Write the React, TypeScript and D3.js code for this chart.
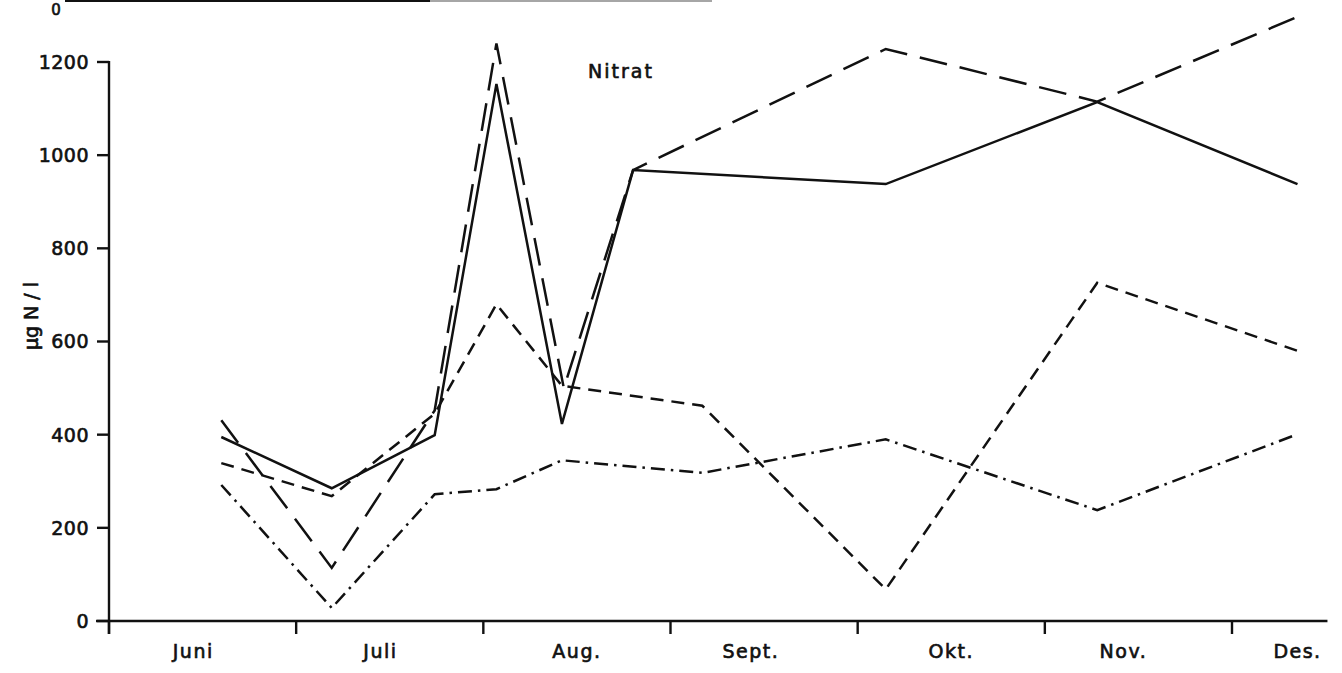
import React from "react";
import * as d3 from "d3";

// Month boundaries (tick positions, in month units from 1 June)
const monthTicks = [0, 1, 2, 3, 4, 5, 6];
const monthLabels = ["Juni", "Juli", "Aug.", "Sept.", "Okt.", "Nov.", "Des."];
const monthLabelPos = [0.45, 1.45, 2.5, 3.43, 4.5, 5.42, 6.35];
const yTicks = [0, 200, 400, 600, 800, 1000, 1200];

// Series (x in month units from 1 June, y in µg N/l)
const solidX = [0.6, 1.19, 1.74, 2.07, 2.42, 2.8, 4.15, 5.28, 6.35];
const solidY = [395, 285, 399, 1153, 423, 968, 938, 1114, 938];

const longDashX = [0.6, 1.19, 1.74, 2.07, 2.43, 2.8, 4.15, 5.28, 6.35];
const longDashY = [431, 114, 452, 1240, 500, 968, 1228, 1115, 1297];

const shortDashX = [0.6, 1.19, 1.74, 2.07, 2.42, 3.17, 4.15, 5.28, 6.35];
const shortDashY = [339, 268, 445, 680, 505, 462, 68, 726, 580];

const dashDotX = [0.6, 1.19, 1.74, 2.07, 2.42, 3.17, 4.15, 5.28, 6.35];
const dashDotY = [292, 28, 272, 283, 345, 318, 390, 238, 401];

const FONT = "'DejaVu Sans', sans-serif";

export default function App() {
  const W = 1342, H = 673;
  const x = d3.scaleLinear().domain([0, 6]).range([109, 1232]);
  const y = d3.scaleLinear().domain([0, 1200]).range([621, 62]);
  const xEnd = x(6.51);

  const line = d3
    .line<[number, number]>()
    .x((d) => x(d[0]))
    .y((d) => y(d[1]));

  const series = [
    { xs: solidX, ys: solidY, dash: "none" },
    { xs: longDashX, ys: longDashY, dash: "28,13" },
    { xs: shortDashX, ys: shortDashY, dash: "13,8" },
    { xs: dashDotX, ys: dashDotY, dash: "14,6,2.5,6" },
  ];

  const textStyle = {
    fontFamily: FONT,
    fontSize: 19,
    fill: "#111",
    stroke: "#111",
    strokeWidth: 0.65,
  } as const;

  return (
    <svg
      width={W}
      height={H}
      style={{ position: "absolute", left: 0, top: 0, background: "#fff" }}
    >
      {/* remnant of the chart above */}
      <line x1={65} x2={430} y1={1} y2={1} stroke="#111" strokeWidth={2.2} />
      <line x1={430} x2={712} y1={1} y2={1} stroke="#888" strokeWidth={1.5} />
      <text x={56} y={15} textAnchor="middle" {...textStyle} fontSize={15}>0</text>

      {/* y axis */}
      <line x1={x(0)} x2={x(0)} y1={y(1200) - 1} y2={634} stroke="#111" strokeWidth={2.4} />
      {yTicks.map((t) => (
        <g key={t}>
          <line x1={x(0) - 12} x2={x(0)} y1={y(t)} y2={y(t)} stroke="#111" strokeWidth={2.4} />
          <text x={89} y={y(t)} dy="0.36em" textAnchor="end" letterSpacing={0.5} {...textStyle}>
            {t}
          </text>
        </g>
      ))}
      <text
        transform={`translate(31,${316}) rotate(-90)`}
        textAnchor="middle"
        dy="0.35em"
        {...textStyle}
      >
        µg N / l
      </text>

      {/* x axis */}
      <line x1={96} x2={xEnd} y1={y(0)} y2={y(0)} stroke="#111" strokeWidth={2.4} />
      {monthTicks.map((m) => (
        <line key={m} x1={x(m)} x2={x(m)} y1={y(0)} y2={y(0) + 13} stroke="#111" strokeWidth={2.4} />
      ))}
      {monthLabels.map((l, i) => (
        <text
          key={l}
          x={x(monthLabelPos[i])}
          y={658}
          textAnchor="middle"
          letterSpacing={1.5}
          {...textStyle}
        >
          {l}
        </text>
      ))}

      {/* title */}
      <text x={621} y={78} textAnchor="middle" letterSpacing={2} {...textStyle}>Nitrat</text>

      {/* series */}
      {series.map((s, i) => (
        <path
          key={i}
          d={line(s.xs.map((v, j) => [v, s.ys[j]] as [number, number])) || ""}
          fill="none"
          stroke="#111"
          strokeWidth={2.5}
          strokeDasharray={s.dash}
          strokeLinejoin="miter"
        />
      ))}
    </svg>
  );
}
